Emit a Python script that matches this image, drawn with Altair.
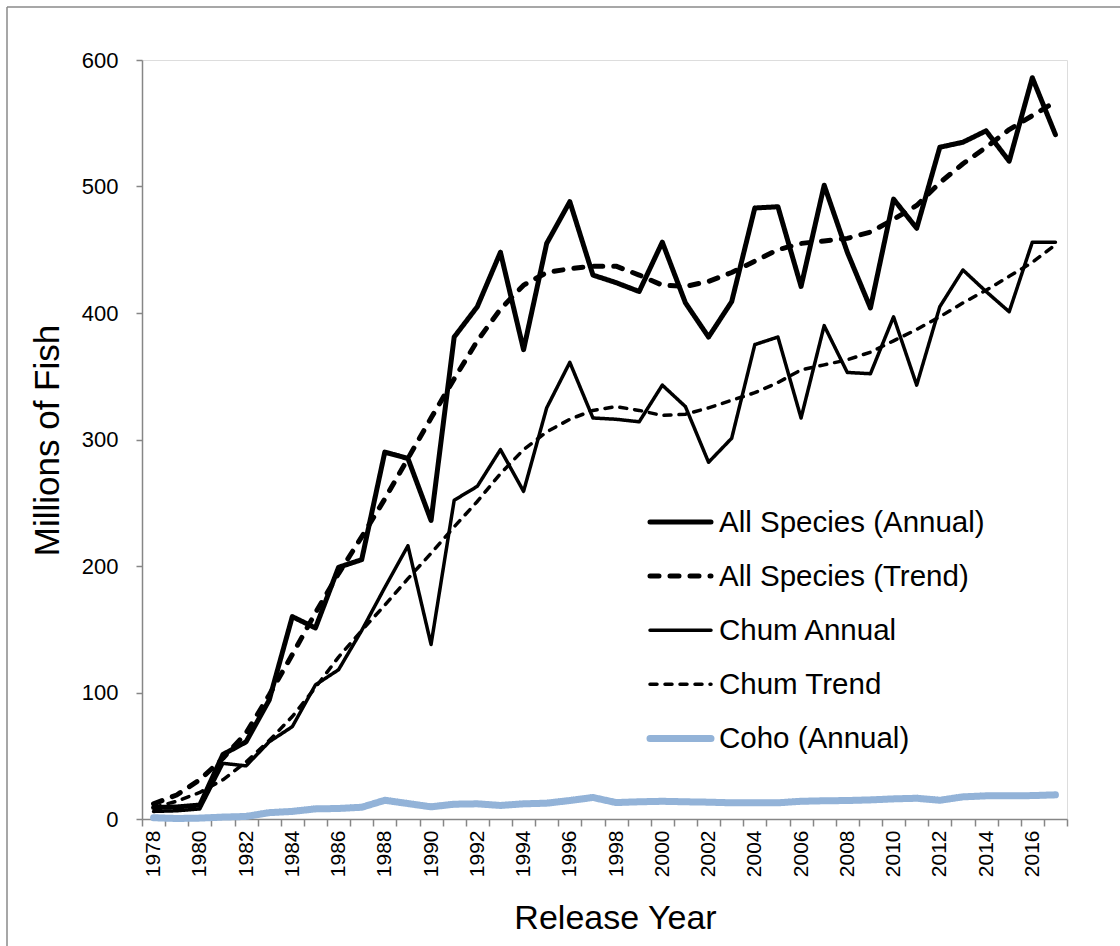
import altair as alt
import pandas as pd

# Release years on the category axis
years = list(range(1978, 2018))

# Millions of fish released, by series
all_annual = [9, 9.5, 11, 51, 61, 94, 160, 151, 199, 205,
              290, 285, 236, 381, 405, 448, 371, 455, 488, 430,
              424, 417, 456, 408, 381, 409, 483, 484, 421, 501,
              448, 404, 490, 467, 531, 535, 544, 520, 586, 541]
all_trend = [12, 19, 31, 48, 68, 98, 130, 163, 194, 223,
             253, 285, 317, 348, 378, 403, 422, 432, 435, 437,
             437, 430, 422, 421, 425, 432, 441, 450, 455, 457,
             459, 464, 474, 485, 503, 518, 531, 545, 556, 567]
chum_annual = [6, 6.5, 8, 44, 42, 61, 73, 106, 118, 149,
               183, 216, 138, 252, 263, 292, 259, 325, 361, 317,
               316, 314, 343, 326, 282, 301, 375, 381, 317, 390,
               353, 352, 397, 343, 405, 434, 417, 401, 456, 456]
chum_trend = [9, 14, 21, 31, 45, 62, 81, 104, 128, 149,
              169, 190, 210, 231, 251, 273, 292, 306, 316, 323,
              326, 323, 319, 320, 325, 331, 337, 345, 355, 359,
              363, 369, 378, 387, 397, 408, 418, 429, 440, 454]
coho_annual = [1, 0.4, 0.7, 1.5, 2, 5, 6, 8, 8.3, 9.3,
               14.8, 12.2, 9.6, 11.7, 12, 10.7, 12, 12.5, 14.6, 17,
               13, 13.6, 14, 13.6, 13.3, 12.8, 12.8, 12.8, 14, 14.4,
               14.6, 15.1, 15.9, 16.4, 14.8, 17.5, 18.3, 18.3, 18.5, 19.1]

series_names = ["All Species (Annual)", "All Species (Trend)", "Chum Annual",
                "Chum Trend", "Coho (Annual)"]
series_values = [all_annual, all_trend, chum_annual, chum_trend, coho_annual]

# Line styling per series
series_colors = ["#000000", "#000000", "#000000", "#000000", "#93B3D8"]
series_dashes = [[1, 0], [9, 11], [1, 0], [7, 8], [1, 0]]
series_widths = [5, 5, 3.5, 3.5, 7]

y_ticks = [0, 100, 200, 300, 400, 500, 600]

rows = []
for name, vals in zip(series_names, series_values):
    for yr, v in zip(years, vals):
        rows.append({"year": yr, "fish": v, "series": name})
df = pd.DataFrame(rows)

legend_df = pd.DataFrame({"series": series_names, "row": list(range(len(series_names)))})

W, H = 925, 759
FONT = "Liberation Sans"
AXIS_GRAY = "#868686"

x_enc = alt.X(
    "year:O",
    scale=alt.Scale(type="band", paddingInner=0, paddingOuter=0),
    axis=alt.Axis(
        title="Release Year",
        labelAngle=270,
        labelExpr="datum.value % 2 == 0 ? datum.label : ''",
        labelOverlap=False,
        tickBand="extent",
        tickSize=7,
        tickColor=AXIS_GRAY,
        domainColor=AXIS_GRAY,
        domainWidth=1.5,
        tickWidth=1.5,
        labelPadding=4,
        labelFontSize=21,
        labelColor="#000000",
        labelFont=FONT,
        titleFontSize=34,
        titleFontWeight="normal",
        titleFont=FONT,
        titleColor="#000000",
        titleX=473,
        titleY=109,
        titleAlign="center",
        titleBaseline="alphabetic",
    ),
)
y_enc = alt.Y(
    "fish:Q",
    scale=alt.Scale(domain=[0, 600], nice=False),
    axis=alt.Axis(
        title="Millions of Fish",
        values=y_ticks,
        grid=False,
        tickSize=6,
        tickColor=AXIS_GRAY,
        domainColor=AXIS_GRAY,
        domainWidth=1.5,
        tickWidth=1.5,
        labelPadding=18,
        labelFontSize=22,
        labelColor="#000000",
        labelFont=FONT,
        titleFontSize=35,
        titleFontWeight="normal",
        titleFont=FONT,
        titleColor="#000000",
        titleAngle=270,
        titleX=-84,
        titleY=380,
        titleAlign="center",
        titleBaseline="alphabetic",
    ),
)

layers = []

# Decorative outer frame
frame_df = pd.DataFrame({"k": [0]})
layers.append(alt.Chart(frame_df).mark_rule(color="#8a8a8a", strokeWidth=1.5).encode(
    x=alt.value(-135), y=alt.value(-53), y2=alt.value(H + 140)
))
layers.append(alt.Chart(frame_df).mark_rule(color="#8a8a8a", strokeWidth=1.5).encode(
    x=alt.value(-135), x2=alt.value(W + 70), y=alt.value(-53)
))

# One line layer per series, each with its own stroke style
for name, col, dash, wid in zip(series_names, series_colors, series_dashes, series_widths):
    layers.append(
        alt.Chart(df).transform_filter(alt.datum.series == name).mark_line(
            color=col, strokeDash=dash, strokeWidth=wid,
            strokeCap="round", strokeJoin="round",
        ).encode(x=x_enc, y=y_enc)
    )

# Legend swatches drawn inside the plot
for name, col, dash, wid in zip(series_names, series_colors, series_dashes, series_widths):
    layers.append(
        alt.Chart(legend_df).transform_filter(alt.datum.series == name).transform_calculate(
            ly="462 + datum.row * 54.1"
        ).mark_rule(color=col, strokeDash=dash, strokeWidth=wid, strokeCap="round").encode(
            x=alt.value(508),
            x2=alt.value(569),
            y=alt.Y("ly:Q", scale=None),
        )
    )

layers.append(
    alt.Chart(legend_df).transform_calculate(
        ty="472 + datum.row * 54.1"
    ).mark_text(align="left", baseline="alphabetic", fontSize=29.5, font=FONT, color="#000000").encode(
        x=alt.value(577),
        y=alt.Y("ty:Q", scale=None),
        text="series:N",
    )
)

chart = alt.layer(*layers).properties(
    width=W,
    height=H,
    padding={"left": 142, "top": 60, "right": 53, "bottom": 127},
    autosize=alt.AutoSizeParams(type="none"),
    background="#ffffff",
).configure_view(stroke=None).configure(font=FONT)

chart.save("out.html", embed_options={"renderer": "svg", "actions": False})
